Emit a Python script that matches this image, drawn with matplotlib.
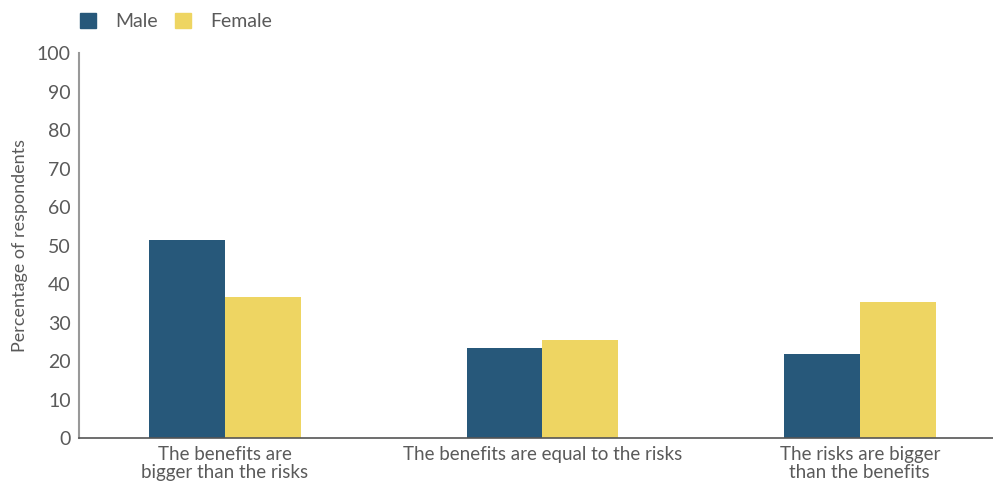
import numpy as np
import matplotlib.pyplot as plt
from matplotlib.patches import Patch

plt.rcParams['font.family'] = ['Lato', 'DejaVu Sans']

categories = ['The benefits are\nbigger than the risks',
              'The benefits are equal to the risks',
              'The risks are bigger\nthan the benefits']
male = [51.4, 23.4, 21.8]
female = [36.6, 25.5, 35.3]
yticks = list(range(0, 101, 10))

male_color = '#27587A'
female_color = '#EED562'
text_color = '#5a5a5a'

fig = plt.figure(figsize=(9.93, 4.87), dpi=100)
ax = fig.add_axes([0.0796, 0.1006, 0.9204, 0.7904])

x = np.arange(len(categories))
w = 0.239
ax.bar(x - w / 2, male, w, color=male_color, label='Male')
ax.bar(x + w / 2, female, w, color=female_color, label='Female')

ax.set_xlim(-0.46, 2.42)
ax.set_ylim(0, 100)
ax.set_yticks(yticks)
ax.set_xticks(x)
ax.set_xticklabels(categories, fontsize=13.5, color=text_color, linespacing=1.05)
ax.tick_params(axis='y', length=0, labelsize=14, labelcolor=text_color, pad=6)
ax.tick_params(axis='x', length=0, pad=6)
ax.set_ylabel('Percentage of respondents', fontsize=13, color=text_color, labelpad=6)

for s in ['top', 'right']:
    ax.spines[s].set_visible(False)
ax.spines['left'].set_color('#999999')
ax.spines['left'].set_linewidth(1.5)
ax.spines['bottom'].set_color('#555555')
ax.spines['bottom'].set_linewidth(1.2)

handles = [Patch(color=male_color, label='Male'), Patch(color=female_color, label='Female')]
fig.legend(handles=handles, loc='upper left', bbox_to_anchor=(0.063, 1.01), ncol=2,
           frameon=False, fontsize=14, labelcolor=text_color,
           handlelength=0.8, handleheight=0.8, handletextpad=1.0, columnspacing=0.9)

fig.savefig('out.png', dpi=100)
